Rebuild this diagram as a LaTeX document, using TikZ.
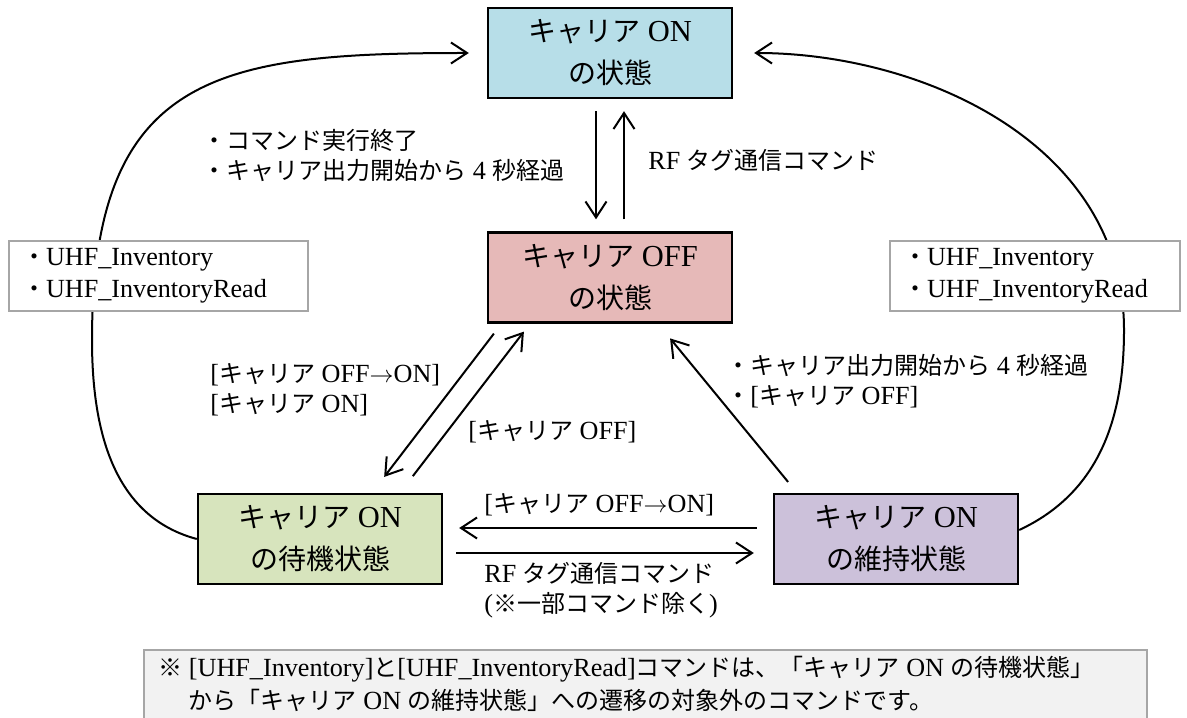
\documentclass[tikz,border=0pt]{standalone}
\usepackage{fontspec}
\setmainfont{Liberation Serif}[Scale=1.09]
\newfontfamily\jpfont{Noto Sans CJK JP}
\newcommand{\jp}[1]{{\jpfont #1}}
\usetikzlibrary{arrows.meta,calc}

\definecolor{onblue}{HTML}{B7DEE8}
\definecolor{offred}{HTML}{E6B9B8}
\definecolor{waitgreen}{HTML}{D7E4BD}
\definecolor{keeppurple}{HTML}{CCC1DA}
\definecolor{notegray}{HTML}{F2F2F2}
\definecolor{framegray}{HTML}{A6A6A6}

\tikzset{
  state/.style={draw, line width=1.2pt, minimum width=122pt, minimum height=45pt,
    align=center, inner sep=0pt, font=\fontsize{14}{21}\selectfont},
  cmdbox/.style={draw=framegray, fill=white, line width=0.6pt, inner xsep=6.5pt,
    minimum height=35pt, align=left, font=\fontsize{12}{16}\selectfont},
  lbl/.style={align=left, inner sep=0pt, font=\fontsize{12}{15}\selectfont},
  arr/.style={line width=1pt, -{Straight Barb[length=8pt,width=10.5pt]}},
}

\begin{document}
\begin{tikzpicture}[x=0.5pt, y=0.5pt]
\useasboundingbox (0,0) rectangle (1187,717);
\clip (0,0) rectangle (1187,717);
% states
\node[state, fill=onblue] (on) at (610,664) {\jp{キャリア} ON\\\jp{の状態}};
\node[state, fill=offred] (off) at (610,439.5) {\jp{キャリア} OFF\\\jp{の状態}};
\node[state, fill=waitgreen] (wait) at (320,178) {\jp{キャリア} ON\\\jp{の待機状態}};
\node[state, fill=keeppurple] (keep) at (896,178) {\jp{キャリア} ON\\\jp{の維持状態}};
% note
\draw[draw=framegray, fill=notegray, line width=0.6pt] (144,67) rectangle (1147,-40);
\node[lbl, anchor=west, font=\fontsize{12}{16.5}\selectfont] (note) at (158,33.5)
  {\jp{※} [UHF\_Inventory]\jp{と}[UHF\_InventoryRead]\jp{コマンドは、「キャリア} ON \jp{の待機状態」}\\
   \hphantom{\jp{※} }\jp{から「キャリア} ON \jp{の維持状態」への遷移の対象外のコマンドです。}};
% long way back
\coordinate (bendL) at (92,377);
\coordinate (bendR) at (1124,387);
\draw[arr, shorten >=9pt] (wait.west) to[out=165, in=-90] (bendL)
  to[out=90, in=180, looseness=1.4] (on.west);
\draw[arr, shorten >=10.5pt] ($(keep.east)+(0,9)$) to[out=25, in=-90] (bendR)
  to[out=90, in=0] (on.east);
\node[cmdbox, text width=136.5pt] (cmdL) at (158.5,441) {\jp{・}UHF\_Inventory\\\jp{・}UHF\_InventoryRead};
\node[cmdbox, text width=132pt] (cmdR) at (1035,441) {\jp{・}UHF\_Inventory\\\jp{・}UHF\_InventoryRead};
% transitions
\draw[arr, shorten <=6pt, shorten >=6pt] ($(on.south)+(-14,0)$) -- ($(off.north)+(-14,0)$);
\draw[arr, shorten <=6pt, shorten >=6pt] ($(off.north)+(14,0)$) -- ($(on.south)+(14,0)$);
\draw[arr, shorten <=6.25pt, shorten >=10pt] ($(off.south)+(-108.5,0)$) -- ($(wait.north)+(52,0)$);
\draw[arr, shorten <=10.5pt, shorten >=5pt] ($(wait.north)+(80,0)$) -- ($(off.south)+(-80,0)$);
\draw[arr, shorten <=7pt, shorten >=9.5pt] ($(keep.north)+(-99,0)$) -- ($(off.south)+(48,0)$);
\draw[arr, shorten <=8pt, shorten >=8pt] ($(keep.west)+(0,11)$) -- ($(wait.east)+(0,11)$);
\draw[arr, shorten <=6.5pt, shorten >=9.5pt] ($(wait.east)+(0,-14)$) -- ($(keep.west)+(0,-14)$);
% labels
\node[lbl, anchor=west] (lblEnd) at (202,562) {\jp{・コマンド実行終了}\\\jp{・キャリア出力開始から} 4 \jp{秒経過}};
\node[lbl, anchor=west] (lblRF) at (648,557) {RF \jp{タグ通信コマンド}};
\node[lbl, anchor=west] (lblUp) at (210,327) {[\jp{キャリア} OFF$\rightarrow$ON]\\{}[\jp{キャリア} ON]};
\node[lbl, anchor=west] (lblOff) at (468,285) {[\jp{キャリア} OFF]};
\node[lbl, anchor=west] (lblKeep) at (726,336) {\jp{・キャリア出力開始から} 4 \jp{秒経過}\\\jp{・}[\jp{キャリア} OFF]};
\node[lbl, anchor=west] (lblBack) at (484,212) {[\jp{キャリア} OFF$\rightarrow$ON]};
\node[lbl, anchor=west] (lblGo) at (484,127) {RF \jp{タグ通信コマンド}\\(\jp{※一部コマンド除く})};
\end{tikzpicture}
\end{document}
